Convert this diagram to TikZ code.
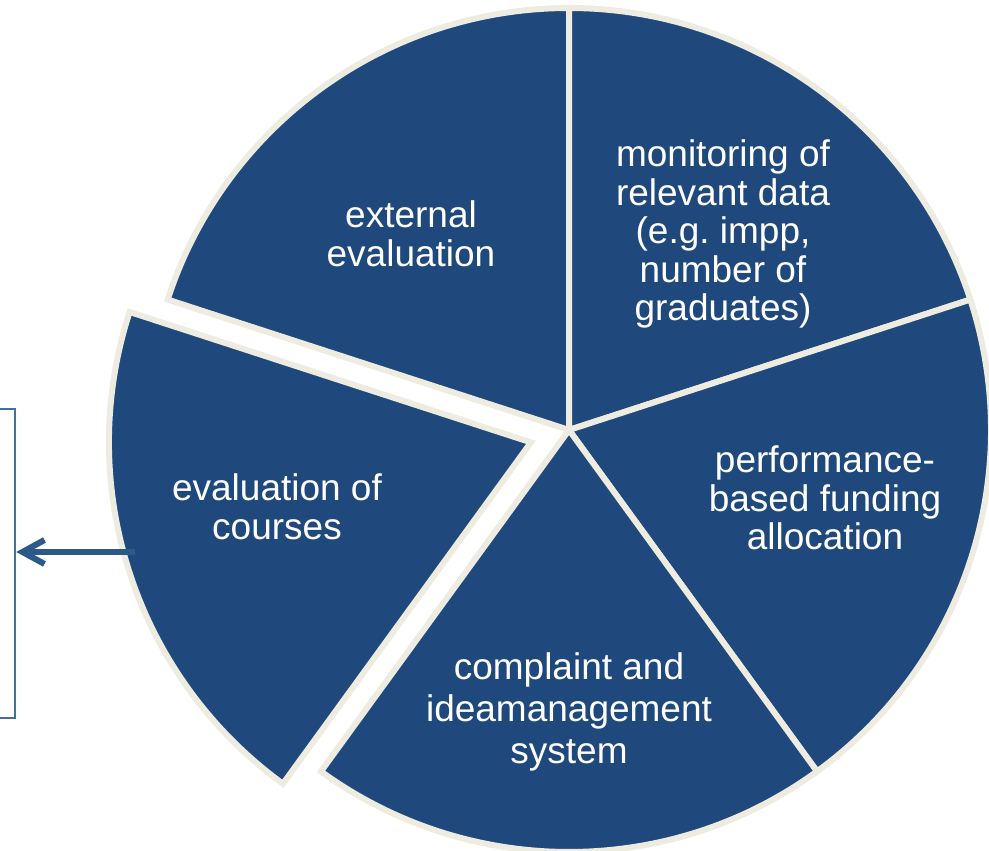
\documentclass[tikz,border=0pt]{standalone}
\usepackage{fontspec}
\setmainfont{Liberation Sans}
\usetikzlibrary{arrows.meta,positioning}
\definecolor{pieblue}{HTML}{1F497D}
\definecolor{piecream}{HTML}{EEECE1}
\definecolor{boxblue}{HTML}{41719C}
\definecolor{arrowblue}{HTML}{2C5A88}
\tikzset{
  slice/.style={fill=pieblue, draw=piecream, line width=6pt},
  slicetext/.style={text=white, align=center, font=\fontsize{37}{38.5}\selectfont},
}

\begin{document}
\begin{tikzpicture}[x=1pt,y=1pt]
  \useasboundingbox (0,0) rectangle (989,851);
  \coordinate (centre) at (569,421);
  \coordinate (pulled) at ([shift={(198:40)}]centre);
  % slices in place
  \foreach \a in {90,18,-54,-126}
    \filldraw[slice] (centre) -- ++(\a:422) arc[start angle=\a, delta angle=72, radius=422] -- cycle;
  % pulled-out slice
  \filldraw[slice] (pulled) -- ++(162:422) arc[start angle=162, delta angle=72, radius=422] -- cycle;

  \node[slicetext] (external) at (411,617) {external\\evaluation};
  \node[slicetext] (monitoring) at (723,617) {monitoring of\\relevant data\\(e.g.\ impp,\\number of\\graduates)};
  \node[slicetext] (funding) at (825,353) {performance-\\based funding\\allocation};
  \node[slicetext, font=\fontsize{37}{42}\selectfont] (complaint) at (569,139) {complaint and\\ideamanagement\\system};
  \node[slicetext] (courses) at (277,344) {evaluation of\\courses};

  % box on the left
  \node[draw=boxblue, line width=2.5pt, minimum width=40, minimum height=309, inner sep=0pt] (box) at (-5,287.5) {};
  \coordinate (arrowstart) at (135,299);
  \draw[arrowblue, line width=6pt, -{Straight Barb[length=22pt,width=24pt]}] (arrowstart) -- (arrowstart -| box.east);
\end{tikzpicture}
\end{document}
